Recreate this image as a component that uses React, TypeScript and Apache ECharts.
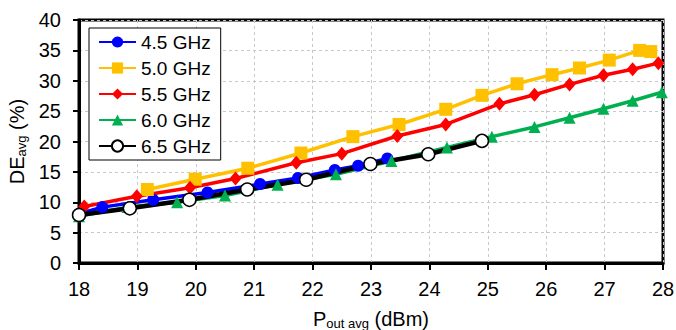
import React, { useEffect, useRef } from "react";
import * as echarts from "echarts";

const FONT = "'Liberation Sans', Arial, sans-serif";

const seriesNames = ["4.5 GHz", "5.0 GHz", "5.5 GHz", "6.0 GHz", "6.5 GHz"];

const x45 = [18.0, 18.4, 19.27, 20.2, 21.1, 21.75, 22.38, 22.78, 23.28];
const y45 = [8.1, 9.2, 10.4, 11.6, 13.0, 14.0, 15.3, 16.0, 17.2];

const x50 = [19.17, 19.99, 20.89, 21.8, 22.69, 23.48, 24.28, 24.9, 25.5, 26.1, 26.57, 27.08, 27.6, 27.79];
const y50 = [12.1, 13.8, 15.6, 18.1, 20.8, 22.8, 25.3, 27.6, 29.5, 31.0, 32.1, 33.4, 35.0, 34.8];

const x55 = [18.09, 18.99, 19.9, 20.68, 21.72, 22.5, 23.45, 24.28, 25.2, 25.8, 26.4, 26.98, 27.48, 27.92];
const y55 = [9.3, 11.0, 12.4, 13.9, 16.5, 18.0, 20.9, 22.8, 26.2, 27.7, 29.4, 30.9, 31.9, 32.9];

const x60 = [18.0, 18.83, 19.68, 20.5, 21.4, 22.4, 23.35, 24.3, 25.07, 25.8, 26.4, 26.98, 27.48, 27.98];
const y60 = [7.7, 9.2, 10.0, 11.1, 12.9, 14.6, 16.8, 19.0, 20.8, 22.4, 23.9, 25.4, 26.7, 28.1];

const x65 = [18.0, 18.87, 19.89, 20.88, 21.89, 22.99, 23.98, 24.9];
const y65 = [7.9, 9.0, 10.4, 12.1, 13.7, 16.3, 17.9, 20.1];

const xTicks = { min: 18, max: 28, interval: 1 };
const yTicks = { min: 0, max: 40, interval: 5 };

const pairs = (xs: number[], ys: number[]) => xs.map((x, i) => [x, ys[i]]);

export default function App() {
  const ref = useRef<HTMLDivElement>(null);
  useEffect(() => {
    if (!ref.current) return;
    const chart = echarts.init(ref.current, undefined, { renderer: "svg" });
    const split = { show: true, lineStyle: { color: "#c8c8c8", type: [3, 3], width: 1 } };
    const axisLine = { show: true, onZero: false, lineStyle: { color: "#000", width: 3 } };
    const mk = (name: string, xs: number[], ys: number[], color: string, symbol: string, size: any, lw: number) => ({
      type: "line",
      name,
      data: pairs(xs, ys),
      symbol,
      symbolSize: size,
      showAllSymbol: true,
      lineStyle: { color, width: lw },
      itemStyle: { color },
      emphasis: { disabled: true },
    });
    const rich = {
      m: { fontSize: 20, color: "#000", fontFamily: FONT, lineHeight: 22 },
      s: { fontSize: 13, color: "#000", fontFamily: FONT, verticalAlign: "bottom", lineHeight: 8 },
    };
    chart.setOption({
      animation: false,
      backgroundColor: "#fff",
      textStyle: { fontFamily: FONT },
      grid: {
        left: 79,
        right: 13,
        top: 20,
        bottom: 67,
        show: true,
        borderColor: "#000",
        borderWidth: 3,
        containLabel: false,
        outerBoundsMode: "none",
      },
      legend: {
        orient: "vertical",
        left: 89,
        top: 28,
        padding: [4, 10, 4, 9],
        itemGap: 6,
        itemWidth: 37,
        itemHeight: 14,
        backgroundColor: "#fff",
        borderColor: "#000",
        borderWidth: 1,
        textStyle: { fontSize: 19, color: "#000", fontFamily: FONT, lineHeight: 20 },
        data: seriesNames,
      },
      xAxis: {
        type: "value",
        ...xTicks,
        axisLine,
        axisTick: { show: true, inside: false, length: 7, lineStyle: { color: "#000", width: 2 } },
        axisLabel: { fontSize: 20, color: "#000", margin: 16, fontFamily: FONT },
        splitLine: split,
        name: "{m|P}{s|out avg}{m| (dBm)}",
        nameLocation: "middle",
        nameGap: 45,
        nameTextStyle: { rich },
      },
      yAxis: {
        type: "value",
        ...yTicks,
        axisLine,
        axisTick: { show: true, inside: false, length: 6, lineStyle: { color: "#000", width: 2 } },
        axisLabel: { fontSize: 20, color: "#000", margin: 18, fontFamily: FONT },
        splitLine: split,
        name: "{m|DE}{s|avg}{m| (%)}",
        nameLocation: "middle",
        nameRotate: 90,
        nameGap: 47,
        nameTextStyle: { rich },
      },
      series: [
        mk(seriesNames[0], x45, y45, "#0000ff", "circle", 12, 3.5),
        mk(seriesNames[1], x50, y50, "#ffc000", "rect", 13, 3.5),
        mk(seriesNames[2], x55, y55, "#ff0000", "diamond", [12, 14], 3.5),
        mk(seriesNames[3], x60, y60, "#00b050", "triangle", 12, 3.5),
        {
          type: "line",
          name: seriesNames[4],
          data: pairs(x65, y65),
          symbol: "circle",
          symbolSize: 13,
          showAllSymbol: true,
          lineStyle: { color: "#000", width: 4.5 },
          itemStyle: { color: "#fff", borderColor: "#000", borderWidth: 1.5 },
          emphasis: { disabled: true },
        },
      ],
    });
    return () => chart.dispose();
  }, []);
  return <div ref={ref} style={{ width: 676, height: 330, position: "absolute", left: 0, top: 0 }} />;
}
